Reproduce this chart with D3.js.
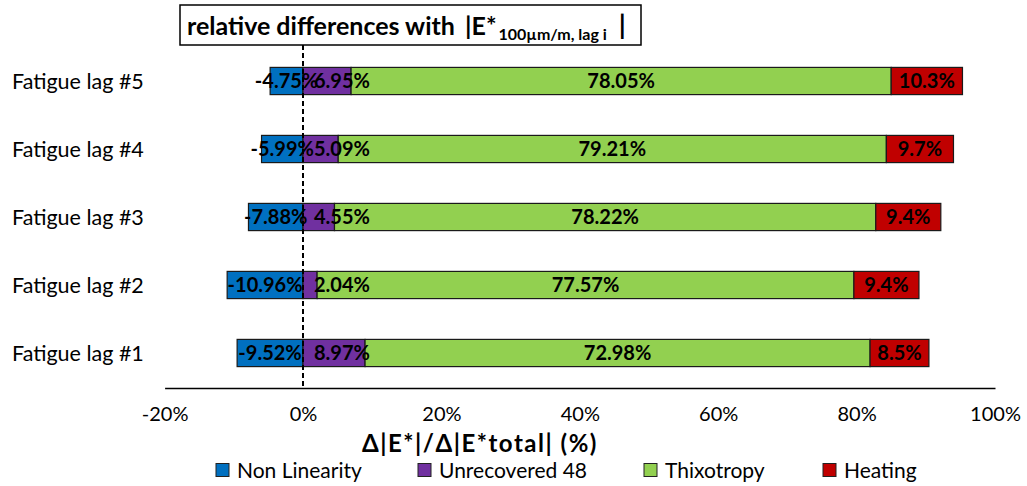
<!DOCTYPE html>
<html>
<head>
<meta charset="utf-8">
<script src="https://cdn.jsdelivr.net/npm/d3@7"></script>
<style>
  html, body { margin: 0; padding: 0; background: #fff; }
  svg { display: block; font-family: Lato, "Open Sans", sans-serif; }
</style>
</head>
<body>
<svg id="chart" width="1027" height="486"></svg>
<script>
// ---- data ----
const categories = ["Fatigue lag #5", "Fatigue lag #4", "Fatigue lag #3", "Fatigue lag #2", "Fatigue lag #1"];
const nonLinearity = [-4.75, -5.99, -7.88, -10.96, -9.52];
const unrecovered48 = [6.95, 5.09, 4.55, 2.04, 8.97];
const thixotropy = [78.05, 79.21, 78.22, 77.57, 72.98];
const heating = [10.3, 9.7, 9.4, 9.4, 8.5];
const seriesNames = ["Non Linearity", "Unrecovered 48", "Thixotropy", "Heating"];
const seriesColors = ["#0070C0", "#7030A0", "#92D050", "#C00000"];
const tickValues = [-20, 0, 20, 40, 60, 80, 100];

// ---- layout ----
const svg = d3.select("#chart");
const x = d3.scaleLinear().domain([-20, 100]).range([164.6, 995]);
const y = d3.scaleBand().domain(categories).range([47, 387]).paddingInner(0.6).paddingOuter(0.3);

// build segments
const rows = categories.map((c, i) => {
  const nl = nonLinearity[i], ur = unrecovered48[i], th = thixotropy[i], he = heating[i];
  return {
    cat: c,
    segs: [
      { s: 0, x0: nl, x1: 0, v: nl },
      { s: 1, x0: 0, x1: ur, v: ur },
      { s: 2, x0: ur, x1: ur + th, v: th },
      { s: 3, x0: ur + th, x1: ur + th + he, v: he }
    ]
  };
});

// axis
const axisG = svg.append("g")
  .attr("transform", `translate(0,${y.range()[1] + 1})`)
  .call(d3.axisBottom(x).tickValues(tickValues).tickSize(0).tickSizeOuter(0).tickPadding(19)
    .tickFormat(d => d + "%"));
axisG.select(".domain").attr("stroke", "#000").attr("stroke-width", 1.3);
axisG.selectAll("text").attr("font-size", 20).attr("fill", "#000").attr("font-family", "Lato");

// bars
const rowG = svg.selectAll("g.row").data(rows).enter().append("g").attr("class", "row");
rowG.selectAll("rect").data(d => d.segs.map(s => Object.assign({ cat: d.cat }, s))).enter()
  .append("rect")
  .attr("x", d => x(d.x0))
  .attr("y", d => y(d.cat))
  .attr("width", d => x(d.x1) - x(d.x0))
  .attr("height", y.bandwidth())
  .attr("fill", d => seriesColors[d.s])
  .attr("stroke", "#1a1a1a")
  .attr("stroke-width", 1.2);

// dashed zero line
svg.append("line")
  .attr("x1", x(0)).attr("x2", x(0))
  .attr("y1", 45).attr("y2", y.range()[1] + 1)
  .attr("stroke", "#000").attr("stroke-width", 2)
  .attr("stroke-dasharray", "5,3");

// data labels
rowG.selectAll("text.lbl").data(d => d.segs.map(s => Object.assign({ cat: d.cat }, s))).enter()
  .append("text").attr("class", "lbl")
  .attr("x", d => d.s === 1 ? x(0) + 11 : (x(d.x0) + x(d.x1)) / 2)
  .attr("y", d => y(d.cat) + y.bandwidth() / 2)
  .attr("dy", "0.36em")
  .attr("text-anchor", d => d.s === 1 ? "start" : "middle")
  .attr("font-size", 20).attr("font-weight", "bold").attr("fill", "#000")
  .text(d => d.v + "%");

// category labels
svg.selectAll("text.cat").data(categories).enter().append("text").attr("class", "cat")
  .attr("x", 12).attr("y", d => y(d) + y.bandwidth() / 2).attr("dy", "0.36em")
  .attr("font-size", 21.5).attr("fill", "#000").text(d => d);

// title box
svg.append("rect").attr("x", 180).attr("y", 5).attr("width", 461).attr("height", 40)
  .attr("fill", "#fff").attr("stroke", "#000").attr("stroke-width", 1.5);
const t = svg.append("text").attr("x", 187).attr("y", 35).attr("font-weight", "bold").attr("font-size", 25).attr("fill", "#000");
t.append("tspan").text("relative differences with ");
t.append("tspan").attr("dx", 4).text("|E*");
t.append("tspan").attr("font-size", 16).attr("dy", 5).attr("dx", 2).text("100µm/m, lag i");
t.append("tspan").attr("dy", -5).attr("dx", 12).attr("font-size", 27).text("|");

// axis title
svg.append("text").attr("x", 480).attr("y", 452).attr("text-anchor", "middle")
  .attr("font-weight", "bold").attr("font-size", 24).attr("letter-spacing", 1.5).attr("fill", "#000")
  .text("Δ|E*|/Δ|E*total| (%)");

// legend
const legendX = [216, 418, 644, 823];
const lg = svg.selectAll("g.leg").data(seriesNames).enter().append("g").attr("class", "leg")
  .attr("transform", (d, i) => `translate(${legendX[i]},470)`);
lg.append("rect").attr("x", 0).attr("y", -6.5).attr("width", 13).attr("height", 13)
  .attr("fill", (d, i) => seriesColors[i]).attr("stroke", "#222").attr("stroke-width", 1);
lg.append("text").attr("x", 21).attr("y", 0).attr("dy", "0.36em").attr("font-size", 21).attr("fill", "#000").text(d => d);
</script>
</body>
</html>
